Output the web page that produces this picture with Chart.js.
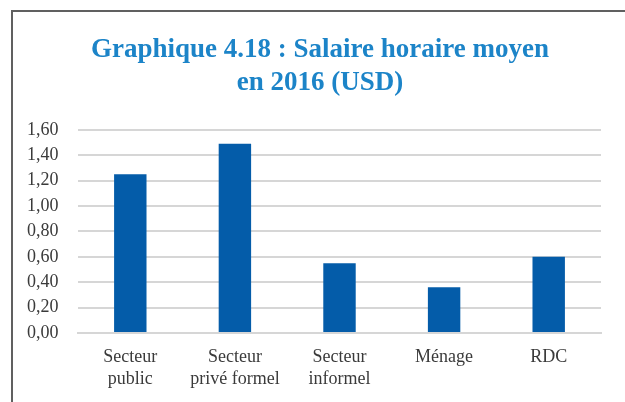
<!DOCTYPE html>
<html>
<head>
<meta charset="utf-8">
<script src="https://cdn.jsdelivr.net/npm/chart.js@4/dist/chart.umd.min.js"></script>
<style>
    html, body {
        margin: 0;
        padding: 0;
        background: #ffffff;
    }

    .frame {
        position: absolute;
        left: 11px;
        top: 10px;
        width: 640px;
        height: 420px;
        border-top: 2px solid #606060;
        border-left: 2px solid #606060;
    }

    .wrap {
        position: absolute;
        left: 0;
        top: 0;
        width: 625px;
        height: 402px;
    }
</style>
</head>
<body>
<div class="frame"></div>
<div class="wrap">
    <canvas id="salaryChart"></canvas>
</div>
<script>
const categories = [
    ['Secteur', 'public'],
    ['Secteur', 'privé formel'],
    ['Secteur', 'informel'],
    'Ménage',
    'RDC',
];
const hourlyWage = [1.25, 1.49, 0.55, 0.36, 0.60];
const yTicks = [0, 0.2, 0.4, 0.6, 0.8, 1.0, 1.2, 1.4, 1.6];

const serif = "'Liberation Serif', 'DejaVu Serif', serif";
const textColor = '#3a3a3a';
const gridColor = '#d6d6d6';

function formatTick(value) {
    return Number(value).toFixed(2).replace('.', ',');
}

function renderSalaryChart() {
    const canvas = document.getElementById('salaryChart');

    if (!canvas) {
        return;
    }

    new Chart(canvas, {
        type: 'bar',
        data: {
            labels: categories,
            datasets: [
                {
                    label: 'Salaire horaire moyen',
                    data: hourlyWage,
                    backgroundColor: '#045ca9',
                    borderWidth: 0,
                    barPercentage: 0.31,
                    categoryPercentage: 1,
                },
            ],
        },
        options: {
            responsive: true,
            maintainAspectRatio: false,
            animation: false,
            layout: {
                padding: {
                    left: 39,
                    right: 24,
                    top: 0,
                    bottom: 6,
                },
            },
            plugins: {
                legend: {
                    display: false,
                },
                tooltip: {
                    enabled: false,
                },
                title: {
                    display: true,
                    text: ['Graphique 4.18 : Salaire horaire moyen', 'en 2016 (USD)'],
                    color: '#1c84c8',
                    font: {
                        family: serif,
                        size: 27,
                        weight: 'bold',
                        lineHeight: 1.2,
                    },
                    padding: {
                        top: 34,
                        bottom: 31,
                    },
                },
            },
            scales: {
                x: {
                    grid: {
                        display: false,
                    },
                    border: {
                        display: true,
                        color: gridColor,
                        width: 2,
                    },
                    ticks: {
                        color: textColor,
                        padding: 5,
                        maxRotation: 0,
                        autoSkip: false,
                        font: {
                            family: serif,
                            size: 18,
                            lineHeight: 1.25,
                        },
                    },
                },
                y: {
                    min: 0,
                    max: 1.6,
                    afterBuildTicks: (scale) => {
                        scale.ticks = yTicks.map((value) => ({ value }));
                    },
                    afterFit: (scale) => {
                        scale.width = 39;
                    },
                    grid: {
                        color: gridColor,
                        lineWidth: 2,
                        drawTicks: false,
                    },
                    border: {
                        display: false,
                    },
                    ticks: {
                        color: textColor,
                        // mirrored so the labels are not clipped to the narrow axis box
                        mirror: true,
                        crossAlign: 'far',
                        padding: -51,
                        autoSkip: false,
                        callback: (value) => formatTick(value),
                        font: {
                            family: serif,
                            size: 18,
                        },
                    },
                },
            },
        },
    });
}

document.addEventListener('DOMContentLoaded', renderSalaryChart);
</script>
</body>
</html>
